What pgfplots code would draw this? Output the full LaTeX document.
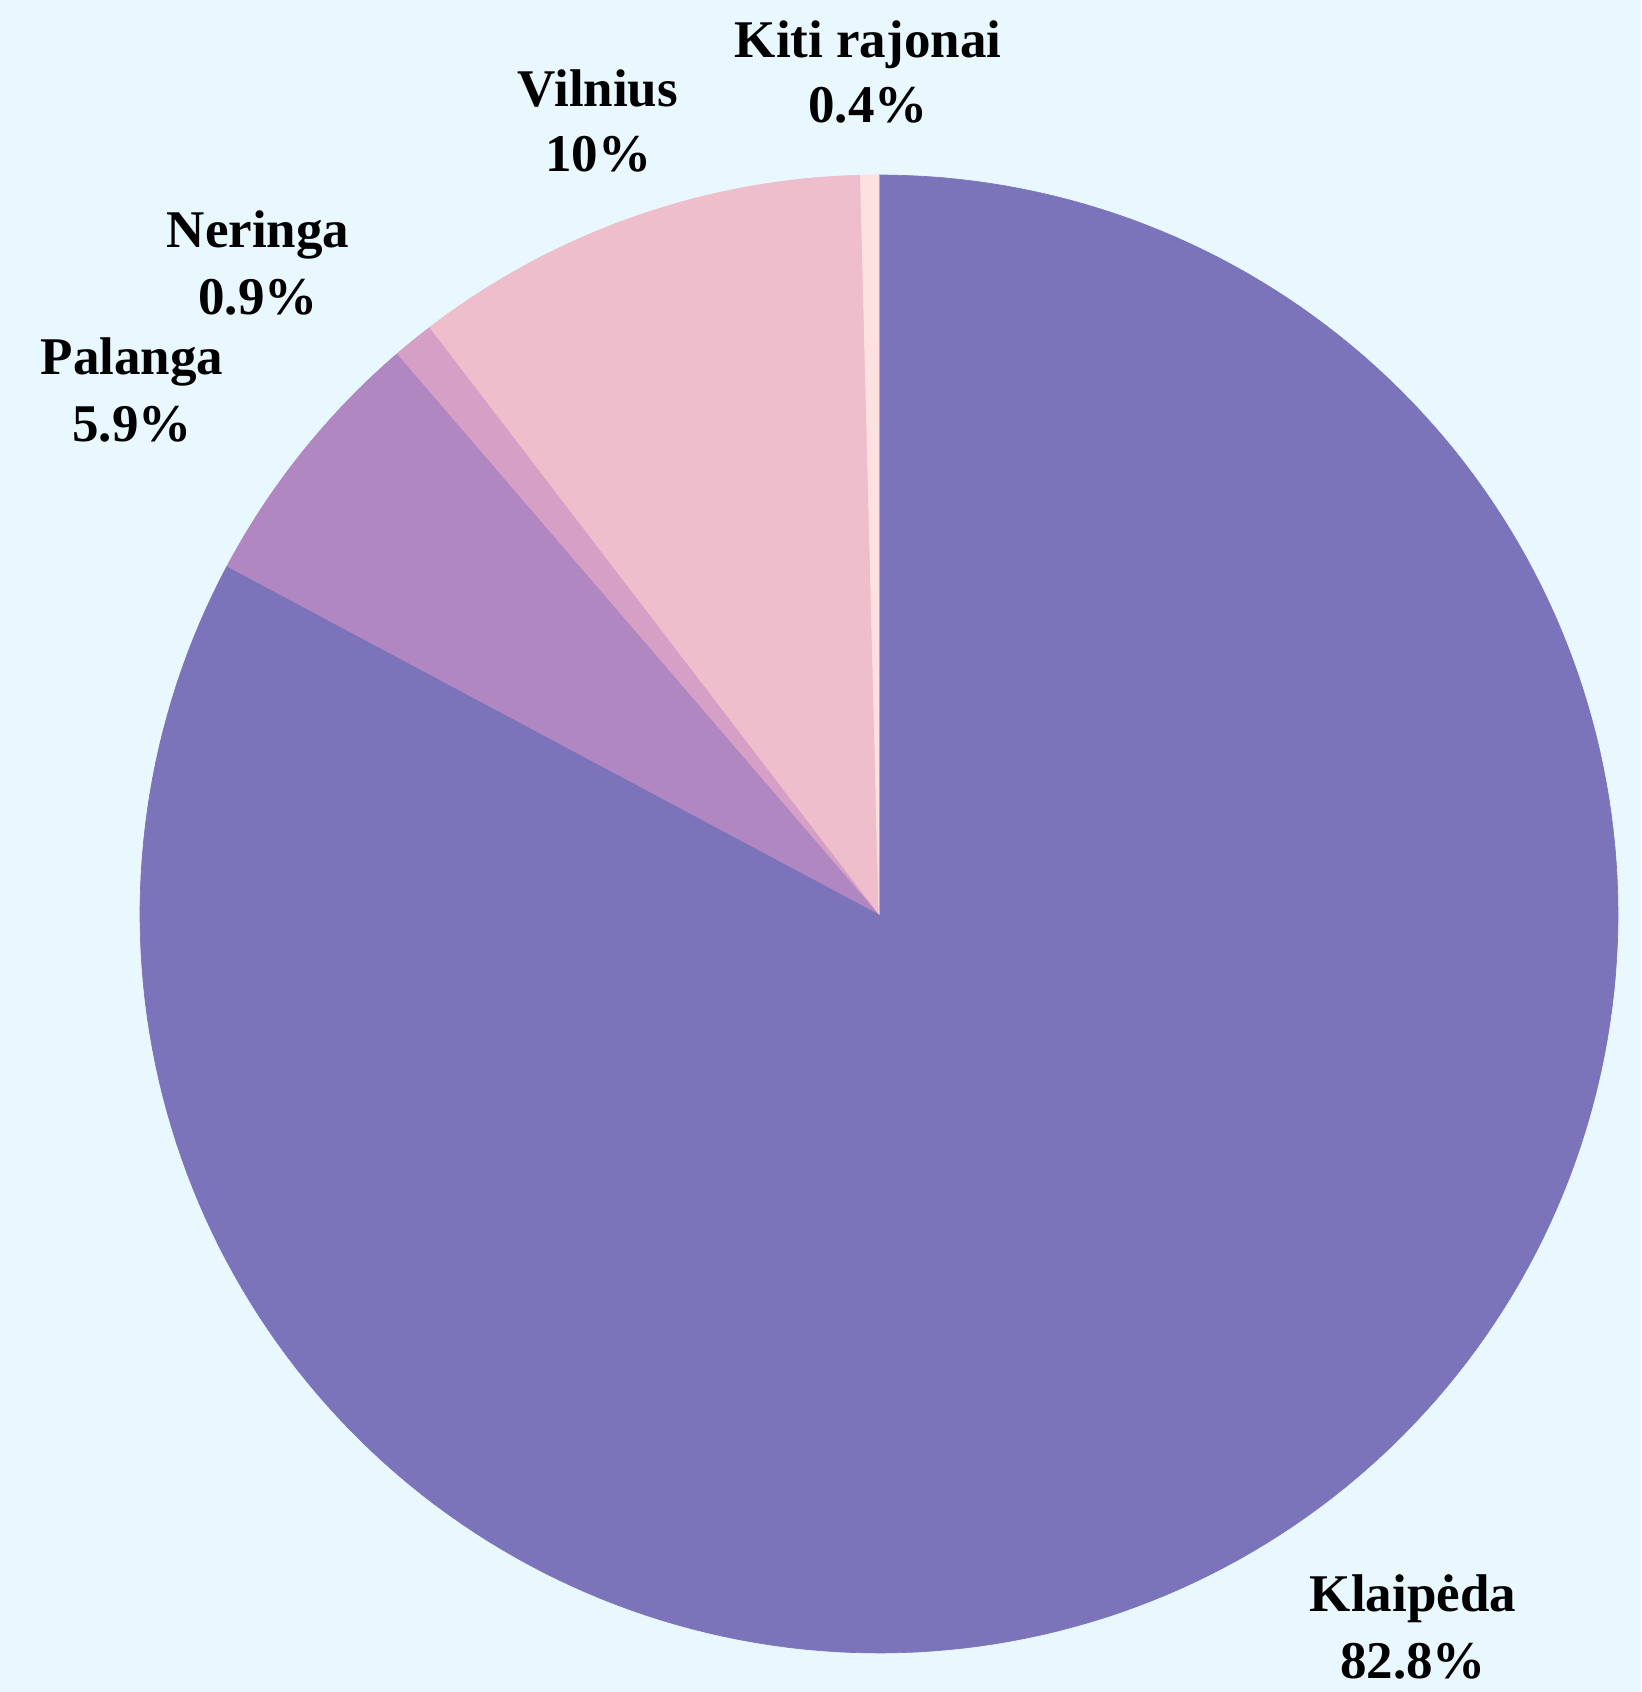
\documentclass[border=0pt]{standalone}
\usepackage{fontspec}
\setmainfont{Liberation Serif}
\usepackage{pgfplots}
\pgfplotsset{compat=1.18}

\definecolor{bgc}{HTML}{E9F7FE}
\definecolor{cKlaipeda}{HTML}{7B74BB}
\definecolor{cPalanga}{HTML}{B087C0}
\definecolor{cNeringa}{HTML}{D6A0C6}
\definecolor{cVilnius}{HTML}{EFBECC}
\definecolor{cKiti}{HTML}{FDE1E0}

% one pixel of the reference = 0.3pt
\newcommand{\lbl}{\bfseries\fontsize{15.9pt}{19.5pt}\selectfont}

\begin{document}
\begin{tikzpicture}
\useasboundingbox (0,0) rectangle (492.3pt,507.6pt);
\fill[bgc] (0,0) rectangle (492.3pt,507.6pt);
\begin{axis}[
    at={(0,0)}, anchor=south west,
    scale only axis,
    width=492.3pt, height=507.6pt,
    xmin=0, xmax=1641, ymin=0, ymax=1692,
    hide axis, clip=false,
    slice/.style={draw=#1, fill=#1, line width=0.2pt},
    every node/.append style={inner sep=0pt},
]
% shares in percent, clockwise from the top: 82.8, 5.9, 0.9, 10, 0.4
\addplot[slice=cKlaipeda, domain={90-3.6*82.8}:90, samples=240]
  ({879+739*cos(x)}, {778+739*sin(x)}) -- (axis cs:879,778) -- cycle;
\addplot[slice=cPalanga, domain={90-3.6*88.7}:{90-3.6*82.8}, samples=30]
  ({879+739*cos(x)}, {778+739*sin(x)}) -- (axis cs:879,778) -- cycle;
\addplot[slice=cNeringa, domain={90-3.6*89.6}:{90-3.6*88.7}, samples=8]
  ({879+739*cos(x)}, {778+739*sin(x)}) -- (axis cs:879,778) -- cycle;
\addplot[slice=cVilnius, domain={90-3.6*99.6}:{90-3.6*89.6}, samples=40]
  ({879+739*cos(x)}, {778+739*sin(x)}) -- (axis cs:879,778) -- cycle;
\addplot[slice=cKiti, domain={90-3.6*100}:{90-3.6*99.6}, samples=4]
  ({879+739*cos(x)}, {778+739*sin(x)}) -- (axis cs:879,778) -- cycle;

\node[anchor=base] at (axis cs:868,1634) {\lbl Kiti rajonai};
\node[anchor=base] at (axis cs:868,1569) {\lbl 0.4\%};
\node[anchor=base] at (axis cs:598,1585) {\lbl Vilnius};
\node[anchor=base] at (axis cs:598,1520) {\lbl 10\%};
\node[anchor=base] at (axis cs:258,1444) {\lbl Neringa};
\node[anchor=base] at (axis cs:258,1377) {\lbl 0.9\%};
\node[anchor=base] at (axis cs:132,1317) {\lbl Palanga};
\node[anchor=base] at (axis cs:132,1250) {\lbl 5.9\%};
\node[anchor=base] at (axis cs:1413,80) {\lbl Klaipėda};
\node[anchor=base] at (axis cs:1413,14) {\lbl 82.8\%};
\end{axis}
\end{tikzpicture}
\end{document}
